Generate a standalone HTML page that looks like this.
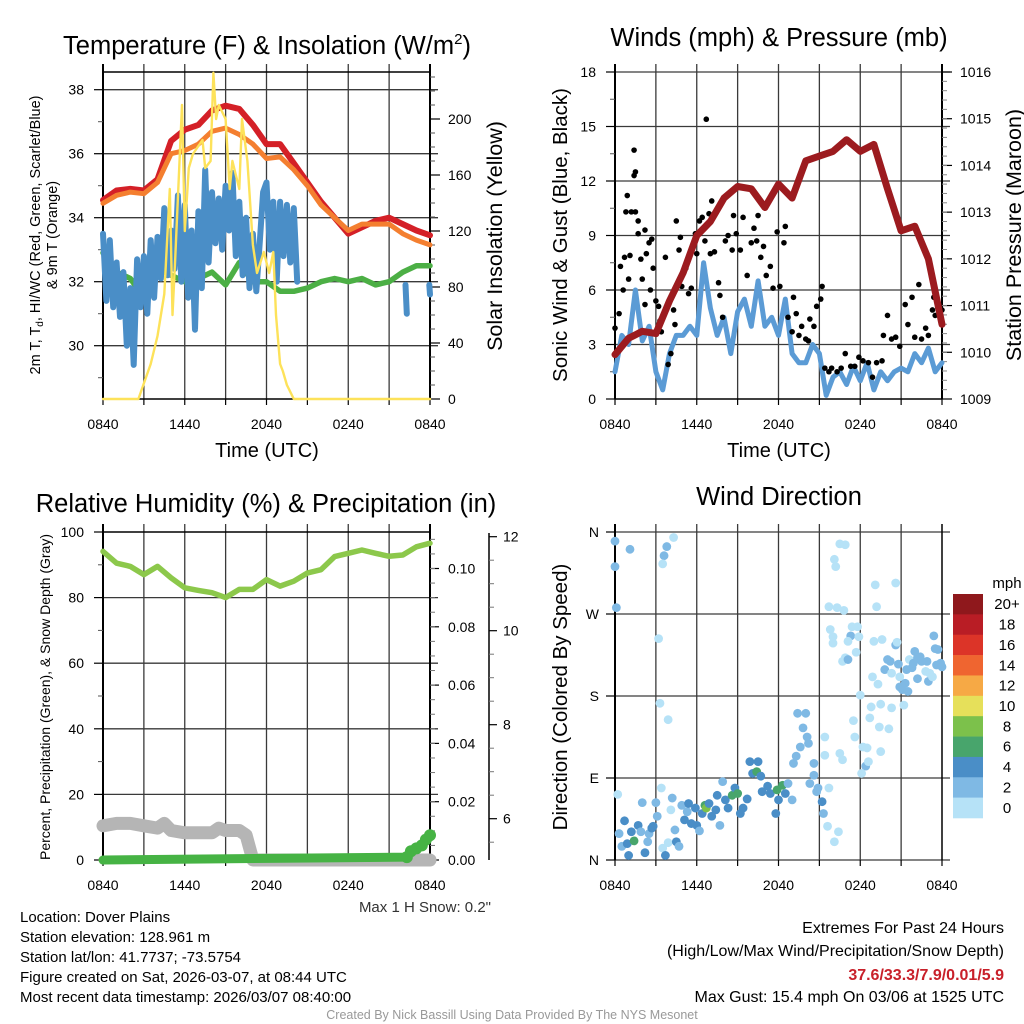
<!DOCTYPE html>
<html><head><meta charset="utf-8"><style>
html,body{margin:0;padding:0;background:#fff;}
svg{display:block;font-family:"Liberation Sans",Arial,sans-serif;}
</style></head><body>
<svg id="chart" xmlns="http://www.w3.org/2000/svg" width="1024" height="1024" viewBox="0 0 1024 1024">
<rect x="0" y="0" width="1024" height="1024" fill="#fff"/>
<g id="layer"></g>
<!-- titles -->
<text x="267" y="54" font-size="25.5" text-anchor="middle">Temperature (F) &amp; Insolation (W/m<tspan dy="-10" font-size="15">2</tspan><tspan dy="10">)</tspan></text>
<text x="779" y="46" font-size="25.5" text-anchor="middle">Winds (mph) &amp; Pressure (mb)</text>
<text x="266" y="512" font-size="25.5" text-anchor="middle">Relative Humidity (%) &amp; Precipitation (in)</text>
<text x="779" y="505" font-size="25.5" text-anchor="middle">Wind Direction</text>
<!-- axis titles -->
<text x="267" y="457" font-size="20" text-anchor="middle">Time (UTC)</text>
<text x="779" y="457" font-size="20" text-anchor="middle">Time (UTC)</text>
<text transform="translate(40,235) rotate(-90)" font-size="14.5" text-anchor="middle">2m T, T<tspan font-size="10" dy="3">d</tspan><tspan dy="-3">, HI/WC (Red, Green, Scarlet/Blue)</tspan></text>
<text transform="translate(57,235) rotate(-90)" font-size="14.5" text-anchor="middle">&amp; 9m T (Orange)</text>
<text transform="translate(502,236) rotate(-90)" font-size="21.5" text-anchor="middle">Solar Insolation (Yellow)</text>
<text transform="translate(567,235) rotate(-90)" font-size="20.5" text-anchor="middle">Sonic Wind &amp; Gust (Blue, Black)</text>
<text transform="translate(1021,235) rotate(-90)" font-size="21.5" text-anchor="middle">Station Pressure (Maroon)</text>
<text transform="translate(50,697) rotate(-90)" font-size="14" text-anchor="middle">Percent, Precipitation (Green), &amp; Snow Depth (Gray)</text>
<text transform="translate(567,697) rotate(-90)" font-size="20.5" text-anchor="middle">Direction (Colored By Speed)</text>
<!-- footer -->
<text x="491" y="912" font-size="15" fill="#333" text-anchor="end">Max 1 H Snow: 0.2"</text>
<g font-size="15" fill="#000">
<text x="20" y="922">Location: Dover Plains</text>
<text x="20" y="942">Station elevation: 128.961 m</text>
<text x="20" y="962">Station lat/lon: 41.7737; -73.5754</text>
<text x="20" y="982">Figure created on Sat, 2026-03-07, at 08:44 UTC</text>
<text x="20" y="1002">Most recent data timestamp: 2026/03/07 08:40:00</text>
</g>
<g font-size="16" text-anchor="end">
<text x="1004" y="933">Extremes For Past 24 Hours</text>
<text x="1004" y="956">(High/Low/Max Wind/Precipitation/Snow Depth)</text>
<text x="1004" y="980" fill="#c8202a" font-weight="bold">37.6/33.3/7.9/0.01/5.9</text>
<text x="1004" y="1002">Max Gust: 15.4 mph On 03/06 at 1525 UTC</text>
</g>
<text x="512" y="1019" font-size="12.5" fill="#999" text-anchor="middle">Created By Nick Bassill Using Data Provided By The NYS Mesonet</text>
</svg>
<script>
// ---------- data ----------
const hours = [0,1,2,3,4,5,6,7,8,9,10,11,12,13,14,15,16,17,18,19,20,21,22,23,24];
const temp2m = [34.55,34.85,34.9,34.85,35.2,36.4,36.75,36.9,37.35,37.5,37.4,36.9,36.3,36.3,35.7,35.1,34.5,34.0,33.5,33.7,33.9,34.0,33.8,33.6,33.45];
const temp9m = [34.45,34.7,34.8,34.75,35.1,36.0,36.1,36.3,36.7,36.8,36.6,36.3,35.85,35.9,35.5,35.0,34.4,34.0,33.6,33.8,33.8,33.8,33.5,33.3,33.15];
const dewpoint = [32.9,32.3,32.1,31.5,32.4,32.2,32.0,32.1,32.3,31.9,32.6,32.0,32.0,31.7,31.7,31.8,32.0,32.1,32.0,32.1,31.9,32.0,32.3,32.5,32.5];
const windChillStep = 0.25;
const windChill = [33.5,31.4,33.3,31.2,32.6,30.9,32.3,30.0,31.8,29.4,32.7,31.2,32.8,31.0,33.3,31.5,33.4,32.1,34.3,32.2,33.6,32.4,34.7,32.0,34.4,31.5,33.6,30.5,34.2,31.8,35.5,32.6,34.8,33.2,34.6,33.0,35.0,33.6,35.4,32.8,34.5,32.2,34.0,31.8,33.5,31.7,33.2,34.8,35.1,33.0,34.5,32.0,34.5,32.8,34.4,32.6,34.3,32.0];
const windChillTailT = [[22.2,22.3],[23.95,24.0]];
const windChillTailV = [[31.9,31.0],[31.9,31.6]];
const solarT = [0,2.6,2.96,3.5,4.0,4.5,4.9,5.1,5.3,5.8,6.0,6.3,6.6,7.3,7.5,7.9,8.1,8.3,8.5,9.0,9.3,9.5,10.0,10.2,10.6,11.0,11.3,11.8,12.2,12.5,12.7,13.0,13.2,13.5,14.0,24];
const solarV = [0,0,10,25,45,75,150,60,100,210,120,165,175,185,165,170,233,200,210,200,150,170,150,200,170,110,90,105,90,105,60,25,20,10,0,0];
const tempTicks = [30,32,34,36,38];
const solarTicks = [0,40,80,120,160,200];
const timeLabels = ["0840","1440","2040","0240","0840"];

const windStep = 0.5;
const windSpeed = [1.5,3.5,3.0,6.0,3.2,4.0,1.5,0.5,2.5,3.5,3.5,4.0,3.5,7.5,5.0,3.5,4.5,2.5,4.8,5.5,4.0,6.5,4.0,4.5,3.5,5.5,2.5,2.0,2.0,3.0,2.5,0.2,1.2,1.5,0.8,1.8,1.0,2.0,0.5,1.5,1.0,1.5,1.7,1.5,2.5,2.0,2.8,1.5,2.0];
const gustT = [0,0.3,0.4,0.6,0.7,0.8,0.9,1.0,1.1,1.2,1.4,1.4,1.5,1.5,1.7,1.7,1.9,2.0,2.2,2.2,2.3,2.5,2.6,2.7,2.8,3.0,3.2,3.3,3.4,3.7,3.9,4.1,4.3,4.4,4.5,4.7,4.8,4.9,5.2,5.4,5.6,5.9,6.0,6.2,6.4,6.6,6.7,6.9,7.0,7.1,7.3,7.6,7.7,7.9,8.1,8.3,8.6,8.7,8.9,9.2,9.4,9.7,10.0,10.2,10.4,10.5,10.7,10.9,11.1,11.4,11.6,11.9,12.1,12.4,12.5,12.7,13.0,13.1,13.3,13.5,13.7,14.0,14.2,14.3,14.6,14.8,15.1,15.2,15.4,15.7,15.9,16.3,16.6,16.9,17.3,17.6,17.9,18.2,18.6,18.9,19.2,19.6,19.7,20.0,20.3,20.6,20.9,21.3,21.5,21.8,22.0,22.3,22.5,22.8,23.0,23.3,23.4,23.5,23.7,24.0];
const gustV = [3.9,4.7,7.3,6.0,7.8,10.3,11.2,6.6,7.9,10.3,12.3,13.7,12.5,10.3,9.1,9.8,7.7,6.6,5.2,9.3,8.0,8.6,6.0,8.8,7.2,5.4,5.1,4.3,3.7,7.8,1.9,2.5,4.9,4.1,9.8,8.2,8.9,6.2,7.2,5.8,6.1,9.1,8.0,9.8,10.0,8.7,15.4,10.2,8.0,10.9,8.1,6.4,5.7,4.5,8.7,9.0,8.2,10.1,9.1,8.2,10.0,6.8,8.6,9.4,8.7,10.1,7.8,8.4,6.8,7.3,6.1,9.2,6.2,8.6,9.5,4.5,3.7,5.6,4.7,3.5,4.0,3.3,3.2,4.4,4.0,5.1,5.5,6.2,1.7,1.5,1.7,1.5,1.7,2.5,1.8,1.8,2.3,2.1,2.0,1.2,2.0,2.1,3.5,4.6,3.3,3.4,2.9,5.2,4.1,5.6,3.4,6.3,3.3,3.9,3.5,4.9,5.6,4.6,5.0,4.9];
const pressure = [1009.95,1010.3,1010.45,1010.4,1011.1,1011.7,1012.5,1012.8,1013.3,1013.55,1013.5,1013.1,1013.6,1013.3,1014.1,1014.2,1014.3,1014.55,1014.3,1014.45,1013.5,1012.6,1012.7,1012.0,1010.6];
const windTicks = [0,3,6,9,12,15,18];
const pressureTicks = [1009,1010,1011,1012,1013,1014,1015,1016];

const rh = [94.1,90.5,89.5,87,89.5,86,83,82.2,81.5,80,82.5,82.5,85.5,83.5,85,87.5,88.5,92.5,93.5,94.5,93.5,92.6,93,95.5,96.6];
const snowT = [0,1,2,3,4,4.5,5,6,7,8,8.5,9,10,10.5,11,24];
const snowV = [5.85,5.9,5.9,5.85,5.8,5.9,5.75,5.7,5.7,5.7,5.8,5.75,5.75,5.65,5.0,5.0];
const precipT = [0,22.3,22.6,23.0,23.4,23.7,24.0];
const precipV = [0,0.001,0.003,0.004,0.005,0.007,0.0085];
const rhTicks = [0,20,40,60,80,100];
const precipTicks = ["0.00","0.02","0.04","0.06","0.08","0.10"];
const snowTicks = [6,8,10,12];

const dirT = [0,0,0.1,1.1,3.6,3.8,3.5,4.3,3.2,3.3,3.9,0.2,0.3,0.5,0.7,0.9,1.0,1.2,1.4,1.7,1.9,2.0,2.2,2.4,2.5,2.7,2.8,3.0,3.1,3.4,3.5,3.7,3.9,4.1,4.2,4.4,4.5,4.7,4.9,5.1,5.3,5.4,5.6,5.9,6.0,6.2,6.4,6.6,6.7,6.9,7.1,7.4,7.5,7.7,7.9,8.1,8.3,8.6,8.8,9.0,9.2,9.4,9.7,9.9,10.1,10.4,10.5,10.7,10.8,11.2,11.4,11.8,11.9,12.0,12.3,12.5,12.7,13.0,13.1,13.3,13.4,13.6,13.8,14.0,14.1,14.2,14.3,14.6,14.6,14.8,14.9,15.2,15.3,15.6,15.7,15.4,15.4,16.1,16.4,16.5,16.7,15.8,16.0,16.0,15.7,16.3,16.8,16.1,16.2,16.5,16.9,16.7,16.9,17.1,17.3,17.1,17.4,17.8,17.9,17.7,18.0,17.5,17.6,18.2,18.4,18.1,18.6,18.5,18.8,18.7,19.1,19.2,19.0,18.9,19.3,19.5,19.4,19.5,20.1,20.3,19.6,19.8,20.0,20.2,20.3,20.6,20.7,20.6,20.8,20.9,21.1,20.9,21.2,21.3,21.4,21.5,21.6,21.8,21.9,22.0,22.2,22.2,22.4,22.5,22.8,22.9,23.0,23.1,23.3,23.4,23.5,23.6,23.7,23.9,24.0];
const dirDeg = [350,322,277,341,334,344,325,354,243,172,154,72,29,15,43,18,5,31,21,38,31,63,8,20,29,35,37,63,48,79,13,5,19,55,68,33,20,15,60,44,53,62,40,57,38,32,51,60,57,62,48,55,71,38,86,66,57,71,79,73,51,57,67,108,95,97,108,92,75,81,73,51,77,66,82,73,84,66,106,114,161,124,145,161,135,128,84,106,93,75,79,64,51,37,79,135,115,20,31,117,110,253,238,245,278,277,274,330,322,347,346,218,222,220,246,240,256,256,245,228,181,153,135,124,103,95,108,123,168,156,302,278,240,201,193,171,146,119,144,167,242,209,220,218,205,236,239,304,215,190,187,201,170,194,209,185,220,211,216,229,222,199,223,218,207,218,196,205,201,246,232,214,231,216,212];
const dirSpeed = [2,3,2,3,3,3,1,1,1,1,1,1,3,3,4,4,4,4,6,4,3,3,4,3,3,4,4,3,3,1,1,4,1,1,3,3,4,3,2,4,3,4,4,4,4,2,4,6,8,4,4,4,4,2,2,4,4,6,4,6,4,4,4,4,4,6,4,4,4,4,4,4,6,4,6,4,2,2,2,3,3,3,3,3,3,3,3,3,3,3,3,4,2,1,1,1,1,1,1,1,1,1,1,1,1,1,1,1,1,1,1,1,1,3,3,1,1,1,1,1,1,1,1,1,3,1,1,1,1,1,1,1,1,1,1,1,1,1,1,1,1,3,3,3,1,3,1,1,3,3,3,1,1,3,3,3,1,3,3,3,3,3,3,3,1,3,3,1,1,3,3,3,3,3,3];
const dirLabels = ["N","E","S","W","N"];
const speedBins = ["0","2","4","6","8","10","12","14","16","18","20+"];
const speedColors = ["#b6e2f7","#7fb9e4","#4a8ec7","#48a56c","#7cc14b","#e6e05a","#f6a945","#ef6530","#dc3428","#b91d25","#8f181c"];

// ---------- helpers ----------
const NS = "http://www.w3.org/2000/svg";
const layer = document.getElementById('layer');
function mk(tag, attrs, name) {
  const el = document.createElementNS(NS, tag);
  for (const k in attrs) el.setAttribute(k, attrs[k]);
  
  
  layer.appendChild(el);
  return el;
}
function line(x1,y1,x2,y2,stroke,w,name){ return mk('line',{x1:x1,y1:y1,x2:x2,y2:y2,stroke:stroke,'stroke-width':w},name); }
function txt(x,y,s,size,anchor,name){ const t = mk('text',{x:x,y:y,'font-size':size,'text-anchor':anchor},name); t.textContent = s; return t; }
function path(xs, ys, fx, fy, stroke, w, name) {
  let d = '';
  for (let i=0;i<xs.length;i++){ d += (i?'L':'M') + fx(xs[i]).toFixed(1) + ',' + fy(ys[i]).toFixed(1); }
  return mk('path',{d:d,fill:'none',stroke:stroke,'stroke-width':w,'stroke-linejoin':'round','stroke-linecap':'round'},name);
}

function frame(X0,X1,Y0,Y1,pfx,hGrid){
  const xT = t => X0 + t/24*(X1-X0);
  for (let h=3; h<24; h+=3) line(xT(h), Y0-8, xT(h), Y1, '#3a3a3a', 1.3, pfx+'-vgrid');
  hGrid.forEach(y => line(X0, y, X1+8, y, '#3a3a3a', 1.3, pfx+'-hgrid'));
  for (let h=0; h<=24; h+=3) line(xT(h), Y1, xT(h), Y1+6, '#000', 1.2, pfx+'-x-tick');
  timeLabels.forEach((s,i) => txt(xT(i*6), Y1+30, s, 14, 'middle', pfx+'-x-label'));
  return xT;
}

// ---------- Panel 1: temperature ----------
(function(){
  const X0=103,X1=430,Y0=72,Y1=399;
  const yT = v => 281.7 - (v-32)*32;
  const yS = v => Y1 - v*1.4;
  const xT = frame(X0,X1,Y0,Y1,'temp',tempTicks.map(yT));
  line(X0,Y0,X1,Y0,'#000',1.5,'temp-top-border');
  line(X0,Y1,X1,Y1,'#000',1.5,'temp-bottom-border');
  line(X0,Y0-8,X0,Y1,'#000',2,'temp-left-axis');
  line(X1,Y0-8,X1,Y1,'#000',2,'temp-right-axis');
  tempTicks.forEach(v => { line(X0-9,yT(v),X0,yT(v),'#000',1.2,'temp-y-tick'); txt(X0-19,yT(v)+5,String(v),14,'end','temp-y-label'); });
  for (let v=29; v<=38; v+=2) line(X0-5,yT(v),X0,yT(v),'#555',1,'temp-y-minor-tick');
  solarTicks.forEach(v => { line(X1,yS(v),X1+10,yS(v),'#000',1.2,'solar-y-tick'); txt(X1+18,yS(v)+5,String(v),14,'start','solar-y-label'); });
  for (let v=10; v<=230; v+=10) if (v%40) line(X1,yS(v),X1+5,yS(v),'#555',1,'solar-y-minor-tick');
  path(hours,temp2m,xT,yT,'#d42027',6,'temp-2m-line');
  path(hours,temp9m,xT,yT,'#f47f30',5,'temp-9m-line');
  path(hours,dewpoint,xT,yT,'#4caf45',5.5,'dewpoint-line');
  const wcT = windChill.map((v,i)=>i*windChillStep);
  path(wcT,windChill,xT,yT,'#4a8ec7',6,'windchill-line');
  windChillTailT.forEach((ts,k)=>path(ts,windChillTailV[k],xT,yT,'#4a8ec7',6,'windchill-tail'));
  path(solarT,solarV,xT,yS,'#fde25a',2.4,'solar-line');
})();

// ---------- Panel 2: winds ----------
(function(){
  const X0=615,X1=942,Y0=72,Y1=399;
  const yW = v => Y1 - v*(Y1-Y0)/18;
  const yP = p => Y1 - (p-1009)*(Y1-Y0)/7;
  const xT = frame(X0,X1,Y0,Y1,'wind',windTicks.slice(1).map(yW));
  line(X0,Y1,X1,Y1,'#000',1.5,'wind-bottom-border');
  line(X0,Y0-8,X0,Y1,'#000',2,'wind-left-axis');
  line(X1,Y0-8,X1,Y1,'#000',2,'wind-right-axis');
  windTicks.forEach(v => { line(X0-9,yW(v),X0,yW(v),'#000',1.2,'wind-y-tick'); txt(X0-19,yW(v)+5,String(v),14,'end','wind-y-label'); });
  for (let v=1.5; v<18; v+=3) line(X0-5,yW(v),X0,yW(v),'#555',1,'wind-y-minor-tick');
  pressureTicks.forEach(p => { line(X1,yP(p),X1+10,yP(p),'#000',1.2,'pressure-y-tick'); txt(X1+18,yP(p)+5,String(p),14,'start','pressure-y-label'); });
  for (let p=1009.2; p<1016; p+=0.2) line(X1,yP(p),X1+5,yP(p),'#888',1,'pressure-y-minor-tick');
  const wT = windSpeed.map((v,i)=>i*windStep);
  path(wT,windSpeed,xT,yW,'#5b9bd5',5,'sonic-wind-line');
  gustT.forEach((t,i) => mk('circle',{cx:xT(t),cy:yW(gustV[i]),r:2.8,fill:'#000'},'gust-point'));
  path(hours,pressure,xT,yP,'#9c1b1f',7,'pressure-line');
})();

// ---------- Panel 3: humidity ----------
(function(){
  const X0=103,X1=430,Y0=532,Y1=860;
  const yR = v => Y1 - v*(Y1-Y0)/100;
  const yPr = v => Y1 - v*2915;
  const ySn = v => Math.min(Y1, 818.7 - (v-6)*47);
  const xT = frame(X0,X1,Y0,Y1,'rh',[20,40,60,80].map(yR));
  line(X0,Y0,X1,Y0,'#000',1.5,'rh-top-border');
  line(X0,Y1,X1,Y1,'#000',1.5,'rh-bottom-border');
  line(X0,Y0-8,X0,Y1,'#000',2,'rh-left-axis');
  line(X1,Y0-8,X1,Y1,'#000',2,'precip-axis');
  line(489,533,489,860,'#000',1.5,'snow-axis');
  rhTicks.forEach(v => { line(X0-9,yR(v),X0,yR(v),'#000',1.2,'rh-y-tick'); txt(X0-19,yR(v)+5,String(v),14,'end','rh-y-label'); });
  for (let v=10; v<100; v+=20) line(X0-5,yR(v),X0,yR(v),'#555',1,'rh-y-minor-tick');
  precipTicks.forEach(s => { const v=parseFloat(s); line(X1,yPr(v),X1+9,yPr(v),'#000',1.2,'precip-y-tick'); txt(X1+18,yPr(v)+5,s,14,'start','precip-y-label'); });
  for (let v=0.005; v<0.112; v+=0.005) line(X1,yPr(v),X1+5,yPr(v),'#777',1,'precip-y-minor-tick');
  snowTicks.forEach(v => { line(489,ySn(v),497,ySn(v),'#000',1.2,'snow-y-tick'); txt(503,ySn(v)+5,String(v),14,'start','snow-y-label'); });
  for (let v=5.5; v<12; v+=0.5) if (v%2) line(489,ySn(v),494,ySn(v),'#777',1,'snow-y-minor-tick');
  path(hours,rh,xT,yR,'#8cc84b',5.5,'rh-line');
  path(snowT,snowV,xT,ySn,'#b5b5b5',13,'snow-depth-line');
  path(precipT,precipV,xT,yPr,'#46b344',9,'precip-line');
  precipT.slice(1).forEach((t,i)=>mk('circle',{cx:xT(t),cy:yPr(precipV[i+1]),r:6,fill:'#46b344'},'precip-point'));
})();

// ---------- Panel 4: wind direction ----------
(function(){
  const X0=615,X1=942,Y0=532,Y1=860;
  const yD = d => Y1 - d/360*(Y1-Y0);
  const xT = frame(X0,X1,Y0,Y1,'dir',[0,90,180,270,360].map(yD));
  line(X0,Y0-8,X0,Y1,'#000',2,'dir-left-axis');
  line(X1,Y0-8,X1,Y1,'#000',1.5,'dir-right-border');
  dirLabels.forEach((s,i) => { line(X0-9,yD(i*90),X0,yD(i*90),'#000',1.2,'dir-y-tick'); txt(X0-16,yD(i*90)+5,s,14,'end','dir-y-label'); });
  const colorFor = s => speedColors[Math.min(10, Math.floor(s/2))];
  dirT.forEach((t,i) => mk('circle',{cx:xT(t),cy:yD(dirDeg[i]),r:4.4,fill:colorFor(dirSpeed[i])},'direction-point'));
  const cbX=953, cbW=30, cbTop=594, cbH=224/11;
  txt(1007,588,'mph',15,'middle','colorbar-title');
  for (let i=0;i<speedBins.length;i++){
    const k = speedBins.length-1-i;
    mk('rect',{x:cbX,y:cbTop+i*cbH,width:cbW,height:cbH+0.3,fill:speedColors[k]},'colorbar-box');
    txt(1007,cbTop+i*cbH+cbH/2+5,speedBins[k],15,'middle','colorbar-label');
  }
})();
</script>
</body></html>
